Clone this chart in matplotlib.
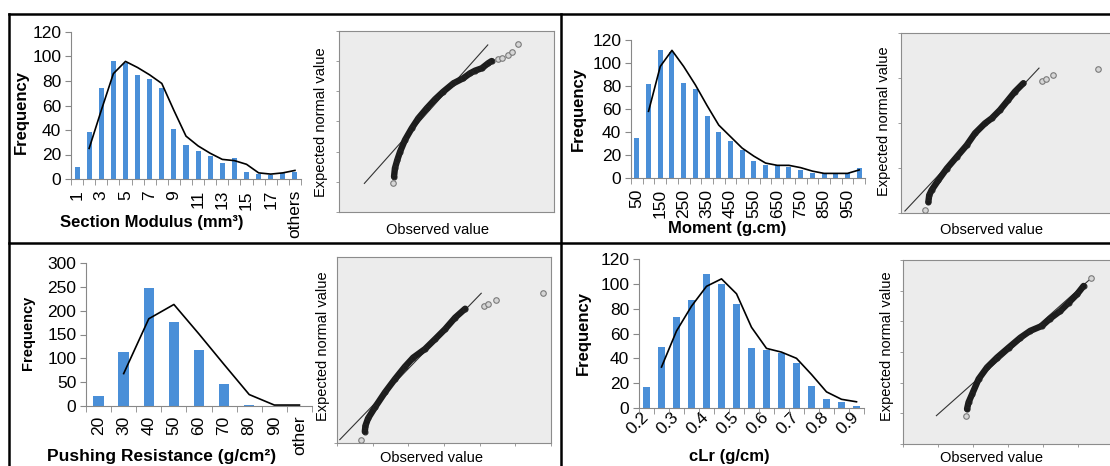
import numpy as np
import matplotlib
matplotlib.use('Agg')
import matplotlib.pyplot as plt
from matplotlib.lines import Line2D

plt.rcParams['font.family'] = ['Liberation Sans', 'DejaVu Sans']

W, H = 1110, 466
BLUE = '#4a8fd8'
GRAY = '#888888'

# ============================================================
# data
# ============================================================
nan = float('nan')

# section modulus histogram
sm_cats = [str(i) for i in range(1, 19)] + ['others']
sm_freq = [10, 38, 74, 96, 95, 85, 82, 74, 41, 28, 23, 19, 13, 17, 6, 4, 3, 5, 6]
sm_line = [nan, 25, 56, 86, 96, 91, 85, 78, 56, 35, 27, 21, 16, 15, 12, 5, 4, 5, 7]

# moment histogram
mo_cats = [str(v) for v in range(50, 1001, 50)]
mo_freq = [35, 82, 111, 110, 83, 77, 54, 40, 32, 24, 15, 11, 11, 10, 7, 4, 4, 4, 4, 9]
mo_line = [nan, 58, 97, 111, 97, 81, 63, 46, 36, 26, 19, 13, 11, 11, 9, 6, 4, 4, 4, 7]

# pushing resistance histogram
pr_cats = ['20', '30', '40', '50', '60', '70', '80', '90', 'other']
pr_freq = [21, 113, 247, 176, 117, 47, 2, 0, 0]
pr_line = [nan, 68, 183, 213, 151, 87, 24, 2, 2]

# cLr histogram
cl_cats = ['0.2', '0.25', '0.3', '0.35', '0.4', '0.45', '0.5', '0.55',
           '0.6', '0.65', '0.7', '0.75', '0.8', '0.85', '0.9']
cl_freq = [17, 49, 73, 87, 108, 100, 84, 48, 47, 44, 36, 18, 7, 5, 2]
cl_line = [nan, 33, 62, 82, 98, 104, 92, 65, 48, 45, 40, 27, 13, 7, 5]

# normal probability plots (observed, expected) in box units 0-100
sm_qq_x = [25.6, 26.0, 27.1, 28.4, 30.7, 33.8, 36.9, 40.8, 44.7, 48.5, 53.2, 57.8, 60.9, 63.3, 66.4, 69.4, 71.0]
sm_qq_y = [19.5, 24.1, 28.7, 33.3, 39.8, 46.2, 51.8, 57.3, 62.3, 66.5, 71.1, 73.9, 76.6, 78.1, 79.4, 82.2, 83.4]
sm_out_x = [25.3, 74.1, 76.0, 78.8, 80.6, 83.4]
sm_out_y = [15.8, 84.5, 85.1, 86.7, 88.6, 92.7]
sm_ref = [(11.8, 15.8), (69.2, 92.3)]

mo_qq_x = [12.6, 13.0, 14.1, 17.2, 21.1, 25.7, 30.3, 34.1, 38.7, 41.8, 45.6, 49.4, 52.5, 56.4]
mo_qq_y = [6.1, 9.9, 12.7, 18.2, 24.7, 31.2, 37.7, 44.3, 49.8, 52.6, 57.2, 62.8, 67.4, 72.1]
mo_out_x = [11.1, 64.8, 66.7, 69.9, 90.6]
mo_out_y = [1.5, 73.4, 74.5, 76.4, 80.1]
mo_ref = [(1.8, 1.1), (63.6, 80.5)]

pr_qq_x = [13.0, 13.3, 14.5, 17.7, 22.4, 27.1, 31.7, 35.6, 41.1, 45.8, 50.5, 55.2, 59.9]
pr_qq_y = [6.1, 9.3, 13.2, 19.1, 27.2, 34.4, 41.0, 45.9, 50.5, 55.8, 61.2, 67.4, 72.2]
pr_out_x = [11.1, 68.6, 70.5, 74.3, 96.1]
pr_out_y = [1.8, 73.7, 74.9, 76.9, 80.5]
pr_ref = [(1.3, 1.8), (67.4, 80.5)]

cl_qq_x = [30.5, 31.2, 32.9, 36.0, 40.0, 44.8, 50.3, 55.9, 60.6, 66.2, 70.1, 74.9, 78.9, 82.9, 86.0]
cl_qq_y = [19.0, 22.6, 27.1, 35.3, 41.6, 47.0, 52.4, 57.8, 61.5, 64.2, 68.2, 72.3, 76.8, 81.4, 85.9]
cl_out_x = [30.1, 89.5]
cl_out_y = [15.4, 90.4]
cl_ref = [(15.9, 15.4), (90.3, 90.8)]


def rect(l, r, t, b):
    return [l / W, 1 - b / H, (r - l) / W, (b - t) / H]


def ftext(x, y, s, **kw):
    fig.text(x / W, 1 - y / H, s, ha='center', va='center', **kw)


def hist_panel(box, cats, freq, line, ymax, ystep, rot, fs, pad, every=2):
    ax = fig.add_axes(rect(*box))
    x = np.arange(len(cats))
    ax.bar(x, freq, width=0.42, color=BLUE, zorder=2)
    ax.plot(x, np.array(line, dtype=float), color='black', lw=1.2, zorder=3)
    ax.set_xlim(-0.5, len(cats) - 0.5)
    ax.set_ylim(0, ymax)
    ax.set_yticks(np.arange(0, ymax + 1, ystep))
    ax.set_xticks(x)
    ax.set_xticklabels([c if i % every == 0 else '' for i, c in enumerate(cats)])
    ax.set_xticks(np.arange(-0.5, len(cats), 1.0), minor=True)
    for s in ['top', 'right']:
        ax.spines[s].set_visible(False)
    for s in ['left', 'bottom']:
        ax.spines[s].set_color(GRAY)
    ax.tick_params(axis='y', direction='out', length=4, color=GRAY, labelsize=fs, pad=3)
    ax.tick_params(axis='x', which='major', length=0, labelsize=fs, pad=pad)
    ax.tick_params(axis='x', which='minor', direction='out', length=4, color=GRAY)
    if rot == 45:
        for t in ax.get_xticklabels():
            t.set_rotation(45)
            t.set_ha('right')
            t.set_va('center')
            t.set_rotation_mode('anchor')
    else:
        for t in ax.get_xticklabels():
            t.set_rotation(90)
            t.set_ha('center')
            t.set_va('top')
    ax.set_facecolor('none')
    return ax


def qq_panel(box, qx, qy, ox, oy, ref, yticks, xticks):
    ax = fig.add_axes(rect(*box))
    ax.set_facecolor('#ececec')
    ax.set_xlim(0, 100)
    ax.set_ylim(0, 100)
    (x0, y0), (x1, y1) = ref
    ax.plot([x0, x1], [y0, y1], color='#333333', lw=0.8, zorder=2)
    ax.plot(qx, qy, color='#1c1c1c', lw=4.6, solid_capstyle='round', zorder=3)
    ax.plot(qx, qy, 'o', ms=3.5, mfc='none', mec='#222222', mew=0.8, zorder=4)
    ax.plot(ox, oy, 'o', ms=4, mfc='#d6d6d6', mec='#7a7a7a', mew=0.8, zorder=4)
    for s in ax.spines.values():
        s.set_color('#8c8c8c')
        s.set_linewidth(0.8)
    ax.set_yticks(yticks)
    ax.set_xticks(xticks)
    ax.set_yticklabels([])
    ax.set_xticklabels([])
    ax.tick_params(direction='out', length=2.5, color='#8c8c8c', width=0.6)
    return ax


fig = plt.figure(figsize=(W / 100, H / 100), dpi=100)

# ------------------------------------------------------------
# histograms
# ------------------------------------------------------------
hist_panel((71, 301, 32, 179), sm_cats, sm_freq, sm_line, 120, 20, 90, 12.5, 8)
ftext(152, 223, 'Section Modulus (mm³)', fontsize=12, fontweight='bold')
ftext(21, 112, 'Frequency', fontsize=12, fontweight='bold', rotation=90)

hist_panel((631, 865, 40, 178), mo_cats, mo_freq, mo_line, 120, 20, 90, 12.5, 8)
ftext(727, 228, 'Moment (g.cm)', fontsize=12, fontweight='bold')
ftext(578, 109, 'Frequency', fontsize=12, fontweight='bold', rotation=90)

hist_panel((86, 312, 263, 406), pr_cats, pr_freq, pr_line, 300, 50, 90, 12.5, 7, every=1)
ftext(162, 457, 'Pushing Resistance (g/cm²)', fontsize=12.5, fontweight='bold')
ftext(28, 333, 'Frequency', fontsize=10.5, fontweight='bold', rotation=90)

hist_panel((639, 864, 259, 408), cl_cats, cl_freq, cl_line, 120, 20, 45, 12.5, 5)
ftext(729, 457, 'cLr (g/cm)', fontsize=12, fontweight='bold')
ftext(583, 333, 'Frequency', fontsize=12, fontweight='bold', rotation=90)

# ------------------------------------------------------------
# normal probability plots
# ------------------------------------------------------------
sixths = np.linspace(0, 100, 7)
qq_panel((339, 554, 31, 212), sm_qq_x, sm_qq_y, sm_out_x, sm_out_y, sm_ref, sixths, [])
ftext(321, 122, 'Expected normal value', fontsize=10.5, rotation=90)
ftext(437, 230, 'Observed value', fontsize=10.5)

qq_panel((901, 1118, 33, 213), mo_qq_x, mo_qq_y, mo_out_x, mo_out_y, mo_ref, np.linspace(0, 100, 5), [])
ftext(884, 121, 'Expected normal value', fontsize=10.5, rotation=90)
ftext(992, 230, 'Observed value', fontsize=10.5)

qq_panel((337, 551, 257, 443), pr_qq_x, pr_qq_y, pr_out_x, pr_out_y, pr_ref, [0], sixths)
ftext(323, 346, 'Expected normal value', fontsize=10.5, rotation=90)
ftext(432, 458, 'Observed value', fontsize=10.5)

qq_panel((903, 1113, 260, 444), cl_qq_x, cl_qq_y, cl_out_x, cl_out_y, cl_ref, sixths, sixths)
ftext(887, 346, 'Expected normal value', fontsize=10.5, rotation=90)
ftext(992, 458, 'Observed value', fontsize=10.5)

# ------------------------------------------------------------
# panel frame
# ------------------------------------------------------------
for xs, ys in [((9, 1110), (14, 14)), ((9, 1110), (243, 243)),
               ((9, 9), (14, 466)), ((561, 561), (14, 466))]:
    fig.add_artist(Line2D([x / W for x in xs], [1 - y / H for y in ys],
                          color='black', lw=1.8))

fig.savefig('out.png', dpi=100)
